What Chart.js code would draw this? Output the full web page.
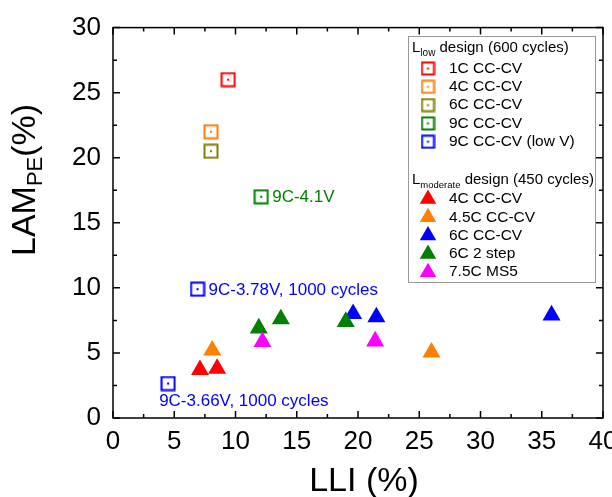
<!DOCTYPE html>
<html><head><meta charset="utf-8">
<script src="https://cdn.jsdelivr.net/npm/chart.js@4/dist/chart.umd.min.js"></script>
<style>html,body{margin:0;padding:0;overflow:hidden;background:#fff}#wrap{width:640px;height:497px}</style>
</head><body><div id="wrap"><canvas id="c" width="640" height="497"></canvas></div>
<script>
const FONT = '"Liberation Sans", Arial, Helvetica, sans-serif';

// ---- data: [LLI %, LAM_PE %] ----
// Llow design (600 cycles) - open squares
const low1C   = [[9.4, 26.0]];
const low4C   = [[8.0, 22.0]];
const low6C   = [[8.0, 20.5]];
const low9C   = [[12.1, 17.0]];
const low9CLowV = [[6.9, 9.9], [4.5, 2.65]];
// Lmoderate design (450 cycles) - filled triangles
const mod4C   = [[7.1, 3.7], [8.5, 3.8]];
const mod45C  = [[8.1, 5.2], [26.0, 5.05]];
const mod6C   = [[19.6, 8.0], [21.5, 7.75], [35.8, 7.9]];
const mod6C2s = [[11.9, 6.9], [13.7, 7.6], [19.0, 7.4]];
const mod75C  = [[12.2, 5.85], [21.4, 5.9]];

const lowLabels = ['1C CC-CV', '4C CC-CV', '6C CC-CV', '9C CC-CV', '9C CC-CV (low V)'];
const modLabels = ['4C CC-CV', '4.5C CC-CV', '6C CC-CV', '6C 2 step', '7.5C MS5'];
const lowColors = ['#ff0000', '#ff7f00', '#808000', '#008000', '#0000ff'];
const modColors = ['#ff0000', '#ff7f00', '#0000ff', '#008000', '#ff00ff'];
const notes = [
  {text: '9C-4.1V', series: 3, idx: 0, color: '#008000'},
  {text: '9C-3.78V, 1000 cycles', series: 4, idx: 0, color: '#0000ff'},
  {text: '9C-3.66V, 1000 cycles', series: 4, idx: 1, color: '#0000ff'}
];
const xTicks = {min: 0, max: 40, step: 5};
const yTicks = {min: 0, max: 30, step: 5};

function squareImg(color, side) {
  const s = side + 3;
  const c = document.createElement('canvas');
  c.width = s; c.height = s;
  const g = c.getContext('2d');
  g.strokeStyle = color; g.lineWidth = 2;
  g.strokeRect(1.5, 1.5, side, side);
  g.fillStyle = color;
  g.fillRect(s / 2 - 1, s / 2 - 1, 2, 2);
  return c;
}
const toXY = arr => arr.map(p => ({x: p[0], y: p[1]}));
const lowSeries = [low1C, low4C, low6C, low9C, low9CLowV];
const modSeries = [mod4C, mod45C, mod6C, mod6C2s, mod75C];

const datasets = [];
lowSeries.forEach((s, i) => datasets.push({
  label: lowLabels[i], data: toXY(s), pointStyle: squareImg(lowColors[i], 13),
  pointRadius: 8, order: 20 + i
}));
modSeries.forEach((s, i) => datasets.push({
  label: modLabels[i], data: toXY(s), pointStyle: 'triangle', pointRadius: 10.4,
  backgroundColor: modColors[i], borderColor: modColors[i], borderWidth: 0, order: 10 - i
}));

function drawSubText(ctx, x, y, main, sub, rest, big, small, drop) {
  ctx.font = big + 'px ' + FONT; ctx.fillText(main, x, y);
  let w = ctx.measureText(main).width;
  ctx.font = small + 'px ' + FONT; ctx.fillText(sub, x + w, y + drop);
  w += ctx.measureText(sub).width;
  ctx.font = big + 'px ' + FONT; ctx.fillText(rest, x + w, y);
}

const deco = {
  id: 'deco',
  afterDraw(chart) {
    const ctx = chart.ctx, a = chart.chartArea, xs = chart.scales.x, ys = chart.scales.y;
    ctx.save();
    ctx.strokeStyle = '#000'; ctx.lineWidth = 1.5;
    ctx.strokeRect(a.left, a.top, a.right - a.left, a.bottom - a.top);
    ctx.beginPath();
    for (let v = xTicks.min; v <= xTicks.max + 1e-9; v += xTicks.step / 2) {
      const px = xs.getPixelForValue(v);
      const L = (Math.abs(v / xTicks.step - Math.round(v / xTicks.step)) < 1e-6) ? 7 : 4;
      ctx.moveTo(px, a.bottom); ctx.lineTo(px, a.bottom - L);
      ctx.moveTo(px, a.top); ctx.lineTo(px, a.top + L);
    }
    for (let v = yTicks.min; v <= yTicks.max + 1e-9; v += yTicks.step / 2) {
      const py = ys.getPixelForValue(v);
      const L = (Math.abs(v / yTicks.step - Math.round(v / yTicks.step)) < 1e-6) ? 7 : 4;
      ctx.moveTo(a.left, py); ctx.lineTo(a.left + L, py);
      ctx.moveTo(a.right, py); ctx.lineTo(a.right - L, py);
    }
    ctx.stroke();

    // annotations
    ctx.textBaseline = 'middle';
    ctx.font = '17px ' + FONT;
    notes.forEach((n, k) => {
      const p = lowSeries[n.series][n.idx];
      const px = xs.getPixelForValue(p[0]), py = ys.getPixelForValue(p[1]);
      ctx.fillStyle = n.color;
      ctx.textAlign = 'left';
      if (k === 2) ctx.fillText(n.text, px - 9, py + 18);
      else ctx.fillText(n.text, px + 11, py + 1);
    });

    // legend
    const lx = 408, ly = 36, lw = 187, lh = 246;
    ctx.fillStyle = '#fff'; ctx.fillRect(lx, ly, lw, lh);
    ctx.strokeStyle = '#999'; ctx.lineWidth = 1;
    ctx.strokeRect(lx + 0.5, ly + 0.5, lw, lh);
    ctx.fillStyle = '#000'; ctx.textBaseline = 'alphabetic'; ctx.textAlign = 'left';
    drawSubText(ctx, 412, 51.5, 'L', 'low', ' design (600 cycles)', 15, 10, 4);
    const rowH = 18.3;
    lowLabels.forEach((t, i) => {
      const y = 68.5 + i * rowH;
      const img = squareImg(lowColors[i], 12);
      ctx.drawImage(img, 428 - img.width / 2, y - img.height / 2);
      ctx.fillStyle = '#000'; ctx.font = '15.5px ' + FONT; ctx.textBaseline = 'middle';
      ctx.fillText(t, 449, y);
    });
    ctx.textBaseline = 'alphabetic';
    drawSubText(ctx, 412, 183.5, 'L', 'moderate', ' design (450 cycles)', 15, 9.5, 4);
    modLabels.forEach((t, i) => {
      const y = 199 + i * rowH;
      const r = 9.5;
      ctx.fillStyle = modColors[i];
      ctx.beginPath();
      ctx.moveTo(428, y - r);
      ctx.lineTo(428 + r * 0.866, y + r * 0.5);
      ctx.lineTo(428 - r * 0.866, y + r * 0.5);
      ctx.closePath(); ctx.fill();
      ctx.fillStyle = '#000'; ctx.font = '15.5px ' + FONT; ctx.textBaseline = 'middle';
      ctx.fillText(t, 449, y);
    });

    // axis titles
    ctx.fillStyle = '#000'; ctx.textBaseline = 'alphabetic';
    ctx.textAlign = 'center'; ctx.font = '34px ' + FONT;
    ctx.fillText('LLI (%)', 364, 491);
    ctx.save();
    ctx.translate(35, 256); ctx.rotate(-Math.PI / 2);
    ctx.textAlign = 'left';
    drawSubText(ctx, 0, 0, 'LAM', 'PE', '(%)', 34, 22, 7);
    ctx.restore();
    ctx.restore();
  }
};

new Chart(document.getElementById('c'), {
  type: 'scatter',
  data: {datasets},
  options: {
    responsive: false, animation: false,
    layout: {padding: {left: 0, top: 25, right: 37, bottom: 0}},
    plugins: {legend: {display: false}, tooltip: {enabled: false}},
    scales: {
      x: {
        type: 'linear', min: xTicks.min, max: xTicks.max,
        grid: {display: false, drawTicks: false}, border: {display: false},
        ticks: {stepSize: xTicks.step, color: '#000', padding: 8, maxRotation: 0,
          font: {family: FONT, size: 26}},
        afterFit: s => { s.height = 79; }
      },
      y: {
        type: 'linear', min: yTicks.min, max: yTicks.max,
        grid: {display: false, drawTicks: false}, border: {display: false},
        ticks: {stepSize: yTicks.step, color: '#000', padding: 12,
          font: {family: FONT, size: 26}},
        afterFit: s => { s.width = 113; }
      }
    }
  },
  plugins: [deco]
});
</script></body></html>
